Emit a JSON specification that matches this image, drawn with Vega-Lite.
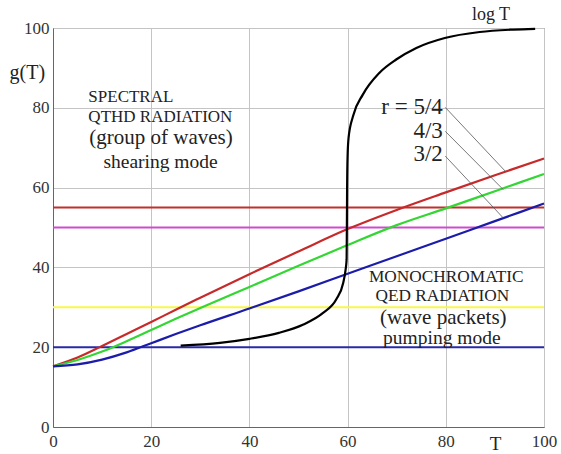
{
  "$schema": "https://vega.github.io/schema/vega-lite/v6.json",
  "width": 491,
  "height": 399,
  "autosize": "none",
  "padding": {"left": 53, "top": 28, "right": 17, "bottom": 27},
  "background": "white",
  "config": {
    "view": {"stroke": "#707070", "strokeWidth": 1},
    "font": "Liberation Serif",
    "text": {"font": "Liberation Serif", "color": "#222222", "baseline": "middle"}
  },
  "datasets": {
    "curves": [
      {"series": "r = 5/4", "T": 0, "g": 15.2},
      {"series": "r = 5/4", "T": 5, "g": 17.4},
      {"series": "r = 5/4", "T": 10, "g": 20.3},
      {"series": "r = 5/4", "T": 15, "g": 23.3},
      {"series": "r = 5/4", "T": 20, "g": 26.3},
      {"series": "r = 5/4", "T": 25, "g": 29.4},
      {"series": "r = 5/4", "T": 30, "g": 32.4},
      {"series": "r = 5/4", "T": 40, "g": 38.3},
      {"series": "r = 5/4", "T": 50, "g": 44.0},
      {"series": "r = 5/4", "T": 60, "g": 49.6},
      {"series": "r = 5/4", "T": 70, "g": 54.4},
      {"series": "r = 5/4", "T": 80, "g": 58.8},
      {"series": "r = 5/4", "T": 90, "g": 63.1},
      {"series": "r = 5/4", "T": 100, "g": 67.3},
      {"series": "r = 4/3", "T": 0, "g": 15.2},
      {"series": "r = 4/3", "T": 5, "g": 16.8},
      {"series": "r = 4/3", "T": 10, "g": 18.9},
      {"series": "r = 4/3", "T": 15, "g": 21.5},
      {"series": "r = 4/3", "T": 20, "g": 24.3},
      {"series": "r = 4/3", "T": 25, "g": 27.1},
      {"series": "r = 4/3", "T": 30, "g": 29.8},
      {"series": "r = 4/3", "T": 40, "g": 35.1},
      {"series": "r = 4/3", "T": 50, "g": 40.4},
      {"series": "r = 4/3", "T": 60, "g": 45.6},
      {"series": "r = 4/3", "T": 70, "g": 50.6},
      {"series": "r = 4/3", "T": 80, "g": 54.8},
      {"series": "r = 4/3", "T": 90, "g": 59.1},
      {"series": "r = 4/3", "T": 100, "g": 63.4},
      {"series": "r = 3/2", "T": 0, "g": 15.2},
      {"series": "r = 3/2", "T": 5, "g": 15.7},
      {"series": "r = 3/2", "T": 10, "g": 16.9},
      {"series": "r = 3/2", "T": 15, "g": 18.7},
      {"series": "r = 3/2", "T": 20, "g": 21.0},
      {"series": "r = 3/2", "T": 25, "g": 23.3},
      {"series": "r = 3/2", "T": 30, "g": 25.5},
      {"series": "r = 3/2", "T": 40, "g": 29.7},
      {"series": "r = 3/2", "T": 50, "g": 34.0},
      {"series": "r = 3/2", "T": 60, "g": 38.4},
      {"series": "r = 3/2", "T": 70, "g": 42.8},
      {"series": "r = 3/2", "T": 80, "g": 47.2},
      {"series": "r = 3/2", "T": 90, "g": 51.6},
      {"series": "r = 3/2", "T": 100, "g": 56.0},
      {"series": "log T", "T": 26, "g": 20.4},
      {"series": "log T", "T": 34, "g": 21.1},
      {"series": "log T", "T": 40, "g": 22.1},
      {"series": "log T", "T": 46, "g": 23.6},
      {"series": "log T", "T": 51, "g": 25.7},
      {"series": "log T", "T": 55, "g": 28.6},
      {"series": "log T", "T": 57.7, "g": 32.0},
      {"series": "log T", "T": 59.1, "g": 36.1},
      {"series": "log T", "T": 59.6, "g": 39.5},
      {"series": "log T", "T": 59.8, "g": 42.0},
      {"series": "log T", "T": 59.85, "g": 50.0},
      {"series": "log T", "T": 59.9, "g": 60.0},
      {"series": "log T", "T": 60.0, "g": 68.0},
      {"series": "log T", "T": 60.2, "g": 72.5},
      {"series": "log T", "T": 61.1, "g": 77.9},
      {"series": "log T", "T": 63.1, "g": 83.3},
      {"series": "log T", "T": 66.5, "g": 88.8},
      {"series": "log T", "T": 69.9, "g": 92.1},
      {"series": "log T", "T": 74, "g": 95.0},
      {"series": "log T", "T": 79.8, "g": 97.5},
      {"series": "log T", "T": 86.9, "g": 99.0},
      {"series": "log T", "T": 93.7, "g": 99.6},
      {"series": "log T", "T": 98.2, "g": 99.8}
    ],
    "levels": [
      {"series": "h55", "g": 55},
      {"series": "h50", "g": 50},
      {"series": "h30", "g": 30},
      {"series": "h20", "g": 20}
    ]
  },
  "layer": [
    {
      "data": {"name": "levels"},
      "mark": {"type": "rule", "strokeWidth": 2},
      "encoding": {
        "y": {"field": "g", "type": "quantitative", "scale": {"domain": [0, 100]}},
        "color": {
          "field": "series", "type": "nominal", "legend": null,
          "scale": {
            "domain": ["r = 5/4", "r = 4/3", "r = 3/2", "log T", "h55", "h50", "h30", "h20"],
            "range": ["#c62a2a", "#33d633", "#1c1caa", "#000000", "#c0302c", "#d04ad0", "#f8f84a", "#2a2aa8"]
          }
        }
      }
    },
    {
      "data": {"name": "curves"},
      "mark": {"type": "line", "strokeWidth": 2.2, "interpolate": "monotone"},
      "encoding": {
        "x": {
          "field": "T", "type": "quantitative",
          "scale": {"domain": [0, 100]},
          "axis": {
            "title": "T", "values": [0, 20, 40, 60, 80, 100],
            "grid": true, "gridColor": "#c4c4c4", "tickSize": 0,
            "labelFontSize": 17, "labelFont": "Liberation Serif", "labelColor": "#333333",
            "labelPadding": 6, "labelFlush": false, "domainColor": "#666666",
            "titleFont": "Liberation Serif", "titleFontSize": 19, "titleFontWeight": "normal",
            "titleX": 442, "titleY": 16, "titleBaseline": "middle", "titleAlign": "center", "titleColor": "#222222"
          }
        },
        "y": {
          "field": "g", "type": "quantitative",
          "scale": {"domain": [0, 100]},
          "axis": {
            "title": "g(T)", "values": [0, 20, 40, 60, 80, 100],
            "grid": true, "gridColor": "#c4c4c4", "tickSize": 0,
            "labelFontSize": 17, "labelFont": "Liberation Serif", "labelColor": "#333333",
            "labelPadding": 4, "labelFlush": false, "domainColor": "#666666",
            "titleFont": "Liberation Serif", "titleFontSize": 20, "titleFontWeight": "normal",
            "titleAngle": 0, "titleX": -44, "titleY": 44, "titleAlign": "left", "titleBaseline": "middle", "titleColor": "#222222"
          }
        },
        "color": {
          "field": "series", "type": "nominal", "legend": null,
          "scale": {
            "domain": ["r = 5/4", "r = 4/3", "r = 3/2", "log T", "h55", "h50", "h30", "h20"],
            "range": ["#c62a2a", "#33d633", "#1c1caa", "#000000", "#c0302c", "#d04ad0", "#f8f84a", "#2a2aa8"]
          }
        }
      }
    },
    {
      "data": {"values": [
        {"T1": 79.9, "g1": 80.1, "T2": 92.2, "g2": 64.0},
        {"T1": 79.9, "g1": 74.1, "T2": 91.7, "g2": 59.5},
        {"T1": 79.9, "g1": 67.9, "T2": 91.7, "g2": 52.4}
      ]},
      "mark": {"type": "rule", "strokeWidth": 0.8, "color": "#555555"},
      "encoding": {
        "x": {"field": "T1", "type": "quantitative"},
        "y": {"field": "g1", "type": "quantitative"},
        "x2": {"field": "T2"},
        "y2": {"field": "g2"}
      }
    },
    {
      "data": {"values": [
        {"T": 79.4, "g": 80.2, "label": "r = 5/4"},
        {"T": 79.4, "g": 74.3, "label": "4/3"},
        {"T": 79.4, "g": 68.4, "label": "3/2"}
      ]},
      "mark": {"type": "text", "align": "right", "fontSize": 23},
      "encoding": {
        "x": {"field": "T", "type": "quantitative"},
        "y": {"field": "g", "type": "quantitative"},
        "text": {"field": "label"}
      }
    },
    {
      "data": {"values": [
        {"T": 7.2, "g": 82.6, "label": "SPECTRAL"},
        {"T": 7.2, "g": 77.6, "label": "QTHD RADIATION"}
      ]},
      "mark": {"type": "text", "align": "left", "fontSize": 17},
      "encoding": {
        "x": {"field": "T", "type": "quantitative"},
        "y": {"field": "g", "type": "quantitative"},
        "text": {"field": "label"}
      }
    },
    {
      "data": {"values": [
        {"T": 22.0, "g": 72.4, "label": "(group of waves)", "size": "big"},
        {"T": 21.9, "g": 66.5, "label": "shearing mode", "size": "mid"},
        {"T": 79.5, "g": 27.4, "label": "(wave packets)", "size": "big"},
        {"T": 79.2, "g": 22.2, "label": "pumping mode", "size": "mid"}
      ]},
      "mark": {"type": "text", "align": "center"},
      "encoding": {
        "x": {"field": "T", "type": "quantitative"},
        "y": {"field": "g", "type": "quantitative"},
        "text": {"field": "label"},
        "size": {"field": "size", "type": "nominal", "legend": null, "scale": {"domain": ["big", "mid"], "range": [21, 19.5]}}
      }
    },
    {
      "data": {"values": [
        {"T": 80.1, "g": 37.5, "label": "MONOCHROMATIC"},
        {"T": 79.3, "g": 32.8, "label": "QED RADIATION"}
      ]},
      "mark": {"type": "text", "align": "center", "fontSize": 17.3},
      "encoding": {
        "x": {"field": "T", "type": "quantitative"},
        "y": {"field": "g", "type": "quantitative"},
        "text": {"field": "label"}
      }
    },
    {
      "data": {"values": [
        {"T": 89.2, "g": 103.3, "label": "log T"}
      ]},
      "mark": {"type": "text", "align": "center", "fontSize": 18},
      "encoding": {
        "x": {"field": "T", "type": "quantitative"},
        "y": {"field": "g", "type": "quantitative"},
        "text": {"field": "label"}
      }
    }
  ]
}
